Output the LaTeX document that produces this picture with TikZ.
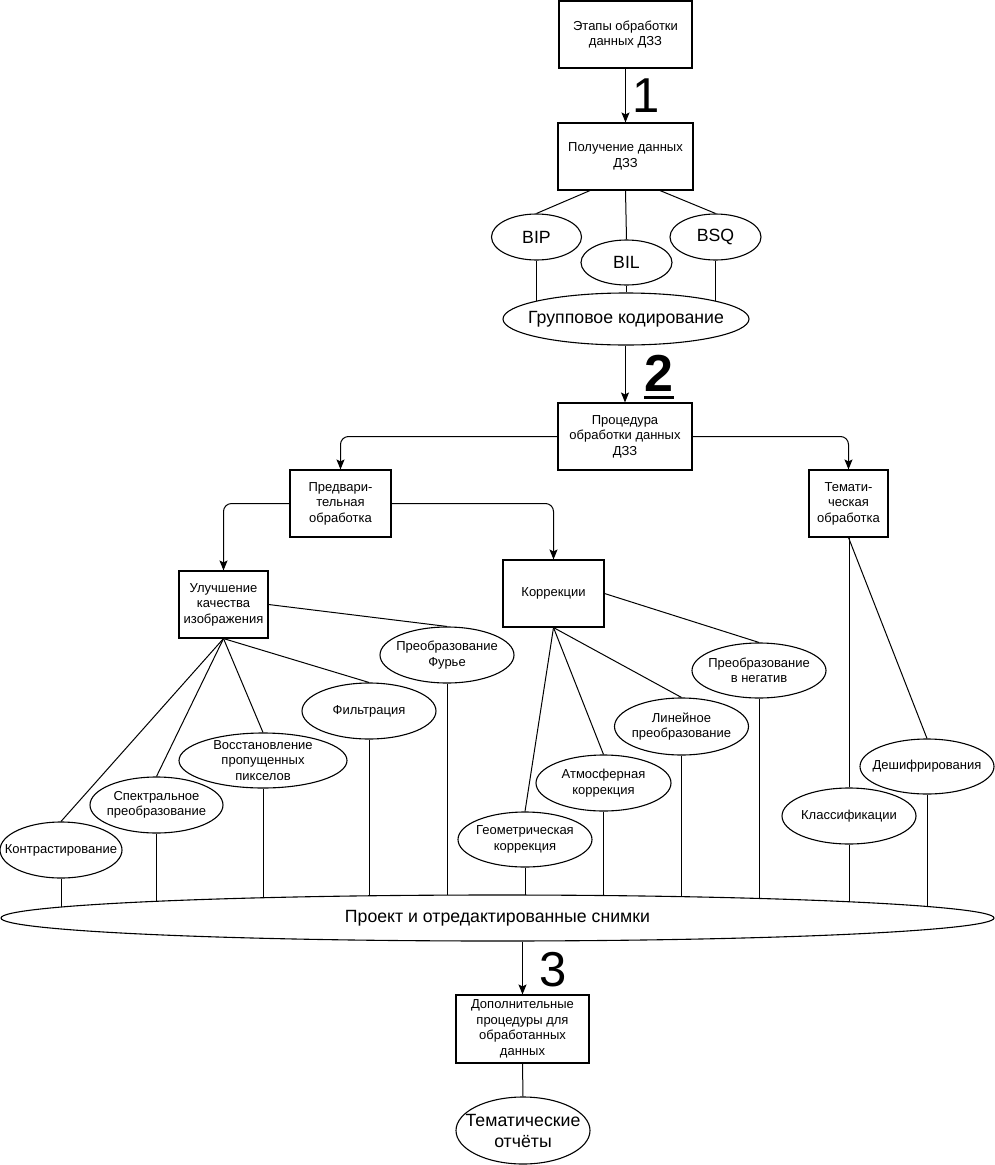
\documentclass[tikz,border=0pt]{standalone}
\usepackage{fontspec}
\setmainfont{Liberation Sans}
\usetikzlibrary{shapes.geometric,arrows.meta,backgrounds}
\newcommand\smtxt{\fontsize{13}{15.5}\selectfont}
\newcommand\bigtxt{\fontsize{17.7}{21}\selectfont}
\tikzset{
  box/.style={draw, rectangle, line width=1.1pt, inner sep=0pt, align=center, font=\smtxt, fill=white},
  oval/.style={draw, ellipse, fill=white, line width=1.1pt, inner sep=0pt},
  lab/.style={inner sep=0pt, align=center, font=\smtxt},
  biglab/.style={inner sep=0pt, align=center, font=\bigtxt},
  link/.style={line width=1pt},
  arr/.style={line width=1pt, -{Stealth[length=10pt,width=8pt,inset=2pt]}},
  bendarr/.style={arr, rounded corners=8pt},
  num/.style={inner sep=0pt, font=\fontsize{49}{49}\selectfont}
}
\begin{document}
\begin{tikzpicture}[x=1pt,y=-1pt]
\useasboundingbox (0,0) rectangle (995,1165);
\begin{pgfonlayer}{background}
\fill[white] (0,0) rectangle (995,1165);
\end{pgfonlayer}

% boxes
\node[box, minimum width=133pt, minimum height=67pt] (b1) at (625.5,34.5) {Этапы обработки\\данных ДЗЗ};
\node[box, minimum width=135pt, minimum height=67pt] (b2) at (625.5,156.5) {Получение данных\\ДЗЗ};
\node[box, minimum width=134pt, minimum height=67pt] (b3) at (625,436.5) {Процедура\\обработки данных\\ДЗЗ};
\node[box, minimum width=101pt, minimum height=67pt] (b4) at (340.5,503.5) {Предвари-\\тельная\\обработка};
\node[box, minimum width=79pt, minimum height=67pt] (b5) at (848.5,503.5) {Темати-\\ческая\\обработка};
\node[box, minimum width=89pt, minimum height=67pt] (b6) at (223.5,604.5) {Улучшение\\качества\\изображения};
\node[box, minimum width=101pt, minimum height=67pt] (b7) at (553.5,593.5) {Коррекции};
\node[box, minimum width=133pt, minimum height=68pt] (b8) at (522.5,1029) {Дополнительные\\процедуры для\\обработанных\\данных};

% ellipses
\node[oval, minimum width=90pt, minimum height=46pt, label={[biglab]center:BIP}] (bip) at (536.5,237) {};
\node[oval, minimum width=91pt, minimum height=45pt, label={[biglab]center:BIL}] (bil) at (626.5,262.5) {};
\node[oval, minimum width=91pt, minimum height=46pt, label={[biglab]center:BSQ}] (bsq) at (715.5,237) {};
\node[oval, minimum width=246pt, minimum height=52pt, label={[biglab]center:Групповое кодирование}] (grp) at (626,319) {};

\node[oval, minimum width=122pt, minimum height=56pt, label={[lab]center:Контрастирование}] (contr) at (61,850) {};
\node[oval, minimum width=133pt, minimum height=56pt, label={[lab]center:Спектральное\\преобразование}] (spec) at (156.5,805) {};
\node[oval, minimum width=168pt, minimum height=55pt, label={[lab]center:Восстановление\\пропущенных\\пикселов}] (vost) at (263,760.5) {};
\node[oval, minimum width=134pt, minimum height=56pt, label={[lab]center:Фильтрация}] (filt) at (369,711) {};
\node[oval, minimum width=134pt, minimum height=56pt, label={[lab]center:Преобразование\\Фурье}] (four) at (447,655) {};

\node[oval, minimum width=134pt, minimum height=55pt, label={[lab]center:Геометрическая\\коррекция}] (geom) at (525,839.5) {};
\node[oval, minimum width=135pt, minimum height=56pt, label={[lab]center:Атмосферная\\коррекция}] (atm) at (603.5,783) {};
\node[oval, minimum width=134pt, minimum height=57pt, label={[lab]center:Линейное\\преобразование}] (lin) at (681.5,726.5) {};
\node[oval, minimum width=134pt, minimum height=55pt, label={[lab]center:Преобразование\\в негатив}] (neg) at (759,670.5) {};

\node[oval, minimum width=134pt, minimum height=56pt, label={[lab]center:Классификации}] (klass) at (849,816) {};
\node[oval, minimum width=134pt, minimum height=55pt, label={[lab]center:Дешифрирования}] (desh) at (927,766.5) {};

\node[oval, minimum width=993pt, minimum height=46pt, label={[biglab]center:Проект и отредактированные снимки}] (proj) at (497.5,918) {};
\node[oval, minimum width=134pt, minimum height=67pt, label={[biglab]center:Тематические\\отчёты}] (tem) at (523,1130.5) {};

% step numbers
\node[num] (n1) at (646.5,95.5) {1};
\node[num, font=\fontsize{52}{52}\selectfont\bfseries] (n2) at (659,373.5) {2};
\node[num] (n3) at (553,970) {3};
\draw[line width=3pt] ([yshift=-6pt]n2.south west) -- ([yshift=-6pt]n2.south east);

% connectors
\begin{pgfonlayer}{background}
\draw[link] ([xshift=-35.5pt]b2.south) -- (bip.north);
\draw[link] (b2.south) -- (bil.north);
\draw[link] ([xshift=34.5pt]b2.south) -- (bsq.north);
\draw[link] (bip.south) -- (bip.south |- grp.center);
\draw[link] (bil.south) -- (grp.north -| bil.south);
\draw[link] (bsq.south) -- (bsq.south |- grp.center);

\draw[link] (b6.south) -- (contr.north);
\draw[link] (b6.south) -- (spec.north);
\draw[link] (b6.south) -- (vost.north);
\draw[link] (b6.south) -- (filt.north);
\draw[link] (b6.east) -- (four.north);

\draw[link] (b7.south) -- (geom.north);
\draw[link] (b7.south) -- (atm.north);
\draw[link] (b7.south) -- (lin.north);
\draw[link] (b7.east) -- (neg.north);

\draw[link] (klass.north |- b5.south) -- (klass.north);
\draw[link] (b5.south) -- (desh.north);

\foreach \e in {contr,spec,vost,filt,four,geom,atm,lin,neg,klass,desh}
  \draw[link] (\e.south) -- (\e.south |- proj.center);
\end{pgfonlayer}

\draw[arr] (b1.south) -- (b2.north);
\draw[arr] (b3.north |- grp.south) -- (b3.north);
\draw[bendarr] (b3.west) -| (b4.north);
\draw[bendarr] (b3.east) -| (b5.north);
\draw[bendarr] (b4.west) -| (b6.north);
\draw[bendarr] (b4.east) -| (b7.north);
\draw[arr] (b8.north |- proj.south) -- (b8.north);
\draw[link] (b8.south) -- (tem.north);
\end{tikzpicture}
\end{document}
